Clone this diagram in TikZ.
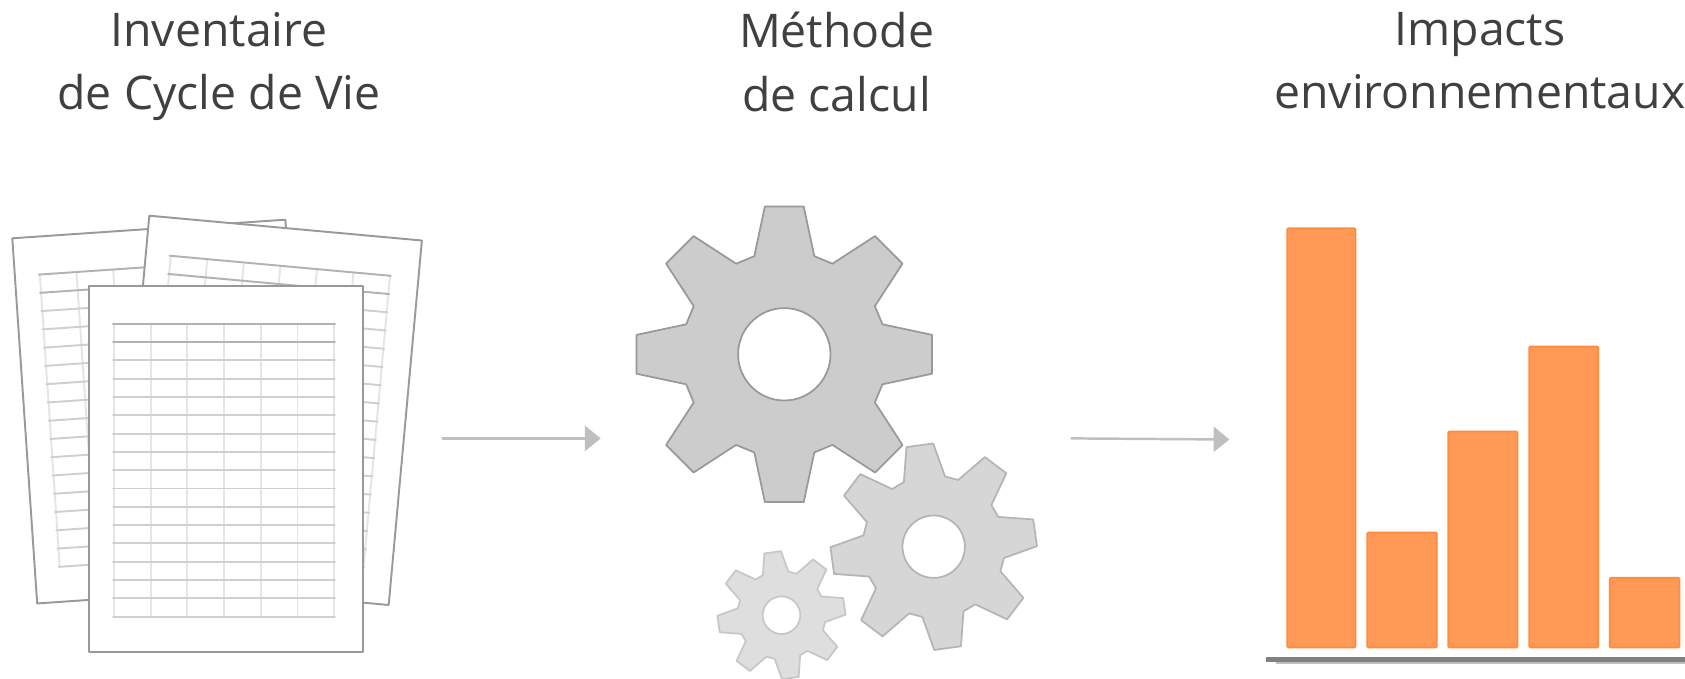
\documentclass[tikz,border=0pt]{standalone}
\usepackage{fontspec}
\setmainfont{Open Sans}
\usepackage{xcolor}
\usetikzlibrary{arrows.meta}
\definecolor{titlegray}{HTML}{404040}
\definecolor{arrowgray}{HTML}{BFBFBF}
\definecolor{barfill}{HTML}{FF9955}
\definecolor{bardraw}{HTML}{FF8B3D}
\tikzset{
  title/.style={font=\fontsize{26.4}{36}\selectfont,text=titlegray,align=center,anchor=north,inner sep=0pt},
  sheet/.style={draw=black!40,fill=white,line width=1.1pt},
  gridhead/.style={draw=black!30,line width=1.1pt},
  gridrow/.style={draw=black!19,line width=1.1pt},
  gridcol/.style={draw=black!10,line width=1.1pt},
  flowarrow/.style={draw=arrowgray,line width=1.4pt,-{Triangle[length=9pt,width=14.3pt]}},
  bar/.style={draw=bardraw,fill=barfill,line width=1pt,rounded corners=0.6pt}
}
% one page of the inventory, origin at its top left corner
\newcommand{\spreadsheet}[3]{
\begin{scope}[shift={(#1,#2)},rotate=#3]
\draw [sheet] (0,0) rectangle (273.7,366);
\foreach \c in {1,...,7}
  \draw [gridcol] ({25+36.7*(\c-1)},38) -- ({25+36.7*(\c-1)},331);
\foreach \r in {2,...,16}
  \draw [gridrow] (24,{38+18.31*\r}) -- (246,{38+18.31*\r});
\draw [gridhead] (24,38) -- (246,38);
\draw [gridhead] (24,56.3) -- (246,56.3);
\end{scope}
}
% eight teeth: centre x, centre y, scale, rotation, hole radius, fill, line
\newcommand{\cogwheel}[7]{
\begin{scope}[shift={(#1,#2)},rotate=#4]
\draw [fill=#6,draw=#7,line width=1pt,even odd rule]
  (-7.5:{149*#3})
  \foreach \a in {0,45,...,315} {
    -- (\a-7.5:{149*#3}) -- (\a+7.5:{149*#3}) -- (\a+17:{102.6*#3}) -- (\a+28:{102.6*#3})
  } -- cycle
  (0,0) circle (#5);
\end{scope}
}
\begin{document}
\begin{tikzpicture}[line cap=round,line join=round,x=0.02cm,y=-0.02cm]
\useasboundingbox (0,0) rectangle (1685,679);
\node [title] (inventaire) at (219,12) {Inventaire\\de Cycle de Vie};
\node [title] (methode) at (836.6,12) {Méthode\\de calcul};
\node [title] (impacts) at (1480,12) {Impacts\\environnementaux};
\spreadsheet{12.3}{238.3}{3.9}
\spreadsheet{149.3}{215.7}{-5.2}
\spreadsheet{89}{285.7}{0}
\coordinate (sheetsout) at (442.7,438.4);
\coordinate (gearsin) at (600.7,438.4);
\coordinate (gearsout) at (1071.4,438.4);
\coordinate (barsin) at (1229.4,439.5);
\draw [flowarrow] (sheetsout) -- (gearsin);
\draw [flowarrow] (gearsout) -- (barsin);
\cogwheel{781.5}{615.2}{0.43}{8}{18.8}{black!13}{black!22}
\cogwheel{933.7}{546.7}{0.693}{7.8}{31.2}{black!16}{black!29}
\cogwheel{784.3}{354.3}{1}{0}{46.2}{black!20}{black!40}
\draw [bar] (1287.2,228.3) rectangle (1355.5,647.5);
\draw [bar] (1367.2,532.5) rectangle (1436.8,647.5);
\draw [bar] (1448.2,431.5) rectangle (1517.5,647.5);
\draw [bar] (1529.2,346.5) rectangle (1598.2,647.5);
\draw [bar] (1609.8,577.8) rectangle (1679.5,647.5);
\fill [black!25] (1276,661) rectangle (1685,664);
\fill [black!50] (1265.7,657) rectangle (1685,662.3);
\end{tikzpicture}
\end{document}
